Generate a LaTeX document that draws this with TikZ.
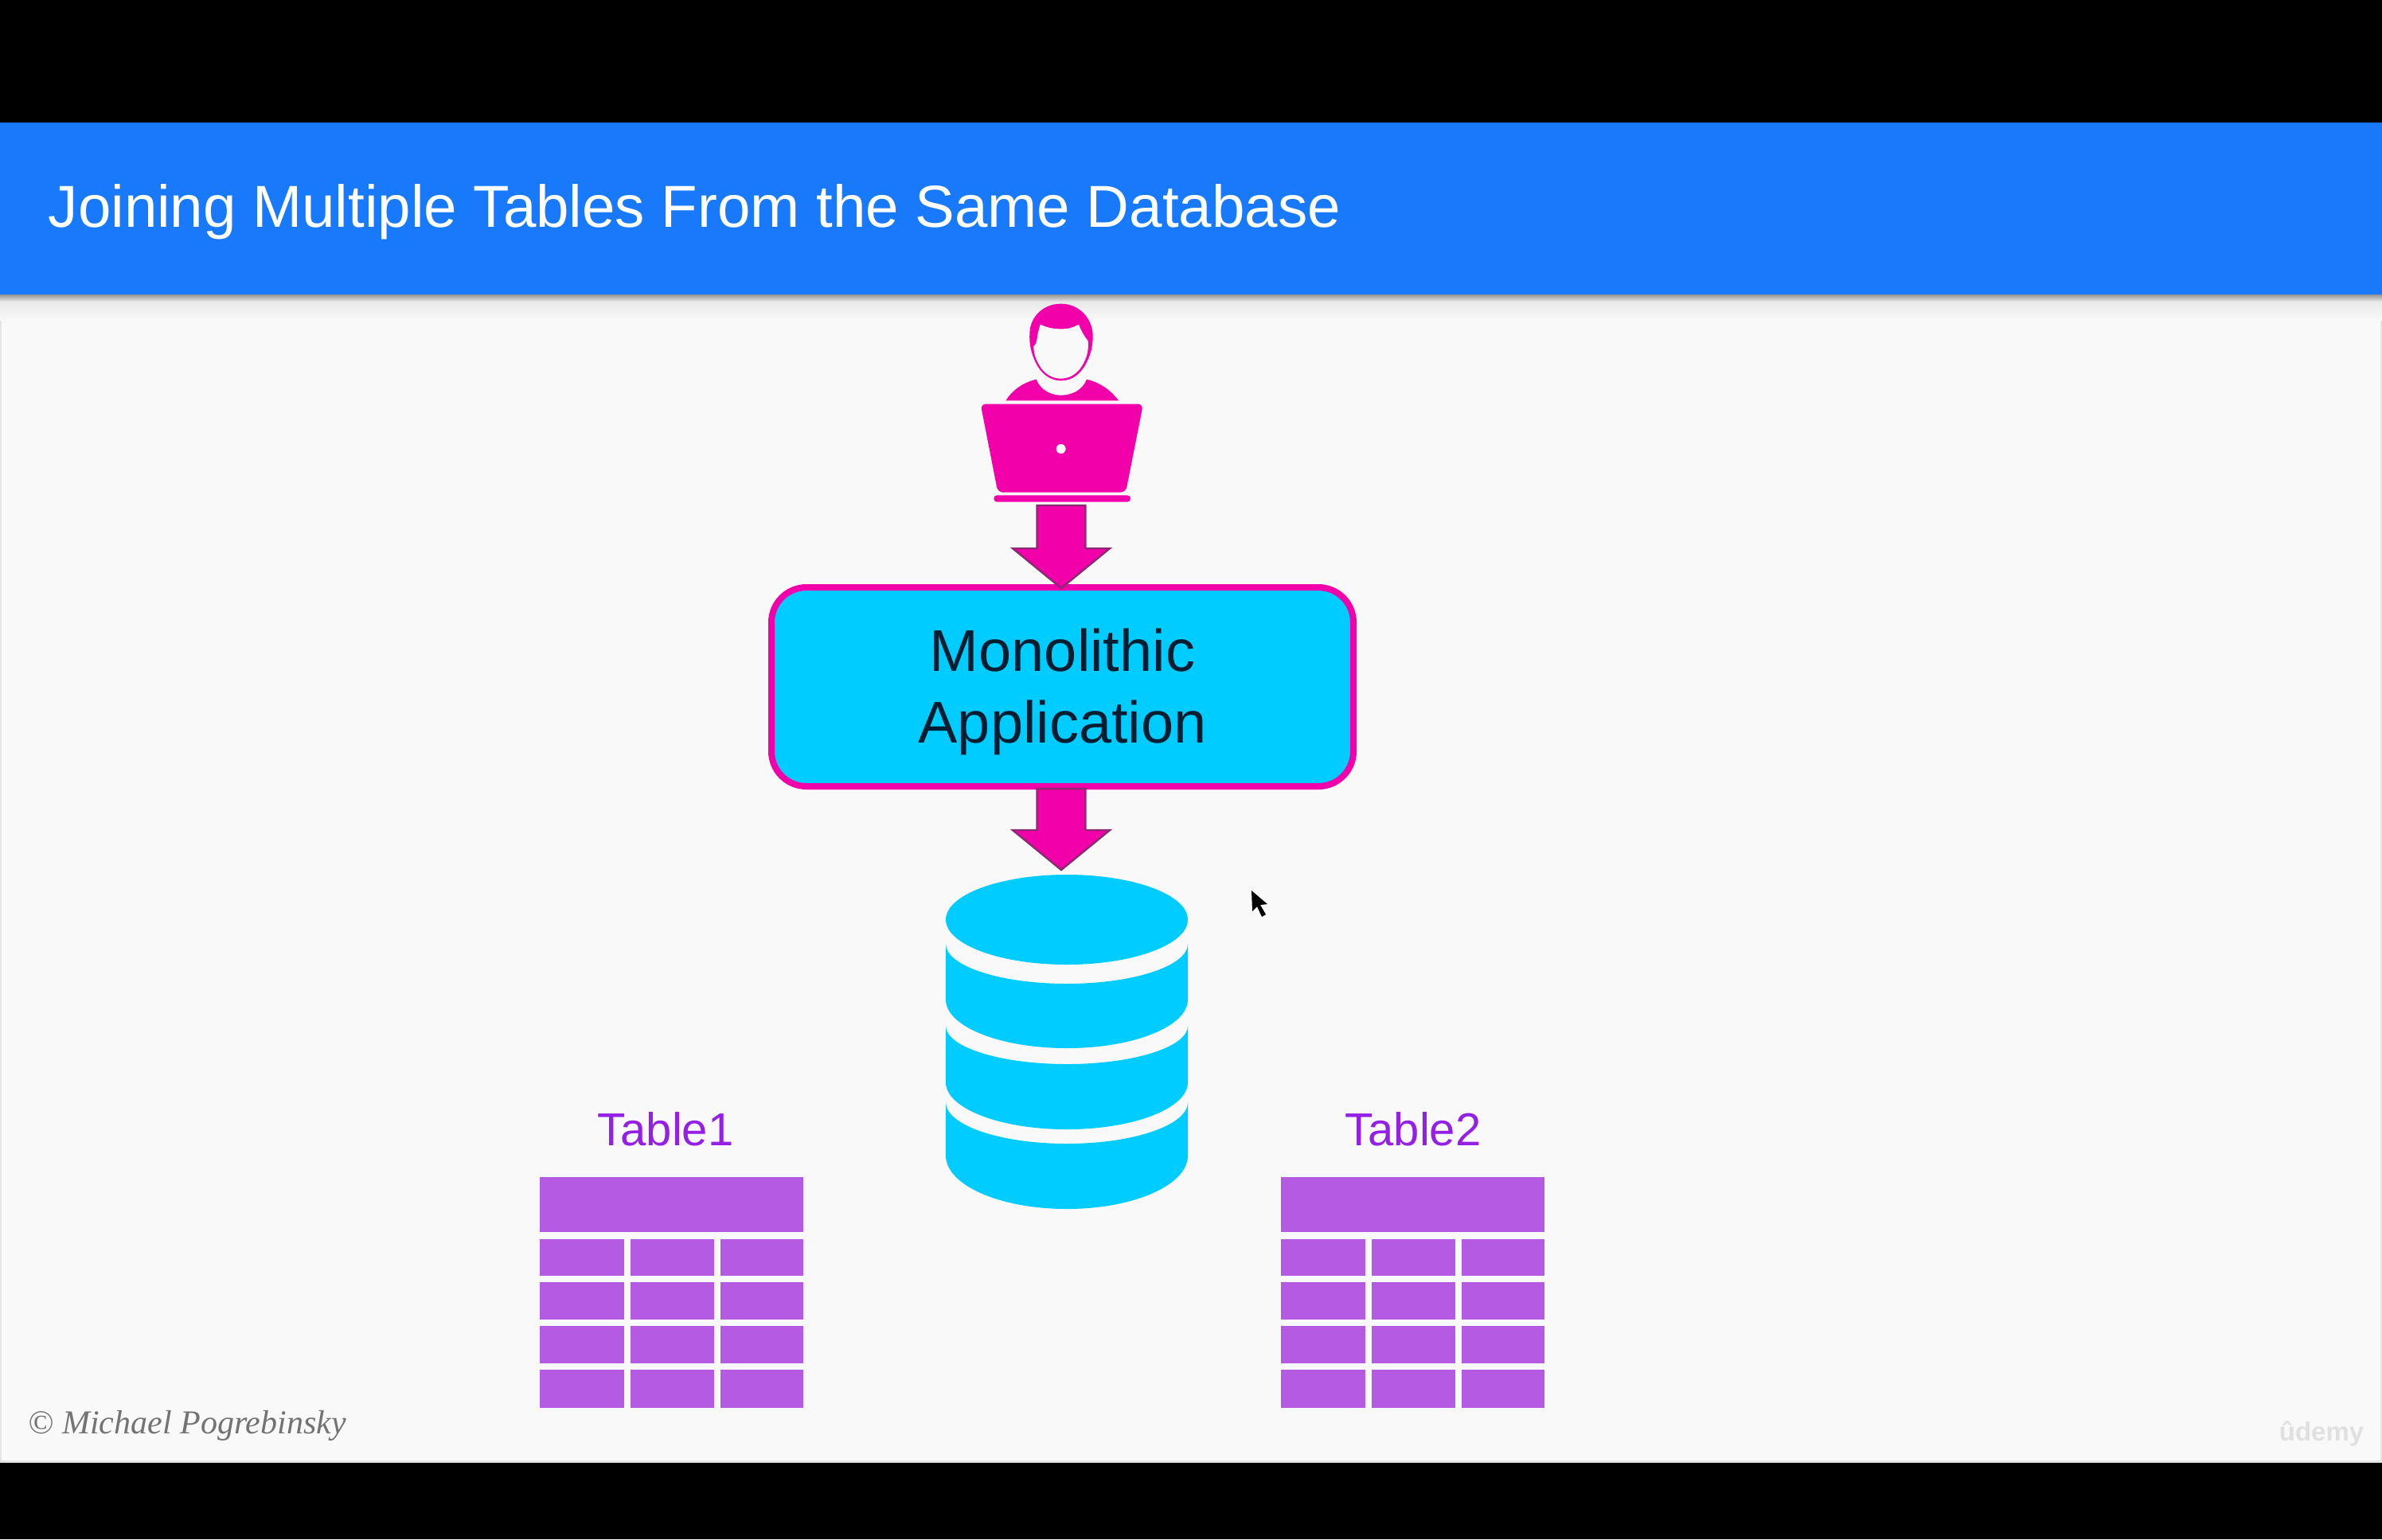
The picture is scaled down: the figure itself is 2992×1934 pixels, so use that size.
\documentclass[tikz,border=0pt]{standalone}
\usepackage{fontspec}
\setmainfont{Liberation Sans}
\newfontfamily\serifit{Liberation Serif}
\usetikzlibrary{calc}
\definecolor{slidebg}{HTML}{F9F9F9}
\definecolor{headblue}{HTML}{187AFA}
\definecolor{hotpink}{HTML}{F200A9}
\definecolor{arrowedge}{HTML}{8A2A70}
\definecolor{dbcyan}{HTML}{00CCFF}
\definecolor{tabpurple}{HTML}{B45AE3}
\definecolor{labpurple}{HTML}{9420E6}
\definecolor{inkdark}{HTML}{021E30}
\definecolor{shadowmid}{HTML}{E9E9E9}
\newcommand{\pxfont}[2][1.2]{\fontsize{\fpeval{#2*0.25}bp}{\fpeval{#2*0.25*#1}bp}\selectfont}
\newcommand{\cylseg}[4]{%
  \fill[dbcyan] (1188,#1) .. controls (1188,{#1+0.5523*(#2-#1)}) and (1256,#2) .. (1340,#2)
    .. controls (1424,#2) and (1492,{#1+0.5523*(#2-#1)}) .. (1492,#1)
    -- (1492,#3) .. controls (1492,{#3+0.5523*(#4-#3)}) and (1424,#4) .. (1340,#4)
    .. controls (1256,#4) and (1188,{#3+0.5523*(#4-#3)}) .. (1188,#3) -- cycle;}
\newcommand{\tablegrid}[1]{%
  \begin{scope}[xshift=#1*0.25bp]
    \fill[tabpurple] (678,1479) rectangle (1009,1548);
    \foreach \ya/\yb in {1557/1603,1611/1658,1666/1713,1721/1769}{
      \fill[tabpurple] (678,\ya) rectangle (784,\yb);
      \fill[tabpurple] (792,\ya) rectangle (897,\yb);
      \fill[tabpurple] (905,\ya) rectangle (1009,\yb);
    }
  \end{scope}}
\tikzset{
  blockarrow/.style={fill=hotpink,draw=arrowedge,line width=0.6bp,line join=miter,
    to path={($(\tikztostart)+(-30.5,0)$) -- ($(\tikztostart)+(30.5,0)$)
      -- ($(\tikztotarget)+(30.5,-50)$) -- ($(\tikztotarget)+(61,-50)$)
      -- (\tikztotarget) -- ($(\tikztotarget)+(-61,-50)$)
      -- ($(\tikztotarget)+(-30.5,-50)$) -- cycle}},
  appbox/.style={rectangle,rounded corners=11bp,draw=hotpink,fill=dbcyan,line width=2bp,
    minimum width=731*0.25bp,minimum height=250*0.25bp,inner sep=0,align=center,
    text=inkdark,font=\pxfont[1.216]{74}},
  tablelabel/.style={text=labpurple,font=\pxfont{58},inner sep=0,anchor=base},
  anchorpt/.style={inner sep=0,minimum size=0}
}
\begin{document}
\begin{tikzpicture}[x=0.25bp,y=-0.25bp]
\useasboundingbox (0,0) rectangle (2992,1934);
\fill[black] (0,0) rectangle (2992,1934);
% slide
\fill[slidebg] (2,155) rectangle (2990,1835);
\fill[black!10] (0,155) rectangle (2,1838);
\fill[black!10] (2990,155) rectangle (2992,1838);
\fill[black!10] (0,1835) rectangle (2992,1838);
\fill[headblue] (0,154) rectangle (2992,370);
\shade[top color=black!42,bottom color=shadowmid] (0,370) rectangle (2992,379);
\shade[top color=shadowmid,bottom color=slidebg] (0,379) rectangle (2992,402);
\node[anchor=base west,inner sep=0,text=white,font=\pxfont{74.5}] (title) at (60,285)
  {Joining Multiple Tables From the Same Database};
% user figure
\begin{scope}[shift={(1180,360)},x=0.0833333bp,y=-0.0833333bp]
  \fill[hotpink] (458,65) .. controls (530,65) and (580,125) .. (578,190)
    .. controls (578,225) and (570,260) .. (550,295)
    .. controls (530,330) and (500,355) .. (458,355)
    .. controls (415,355) and (380,325) .. (362,285)
    .. controls (345,250) and (338,215) .. (340,175)
    .. controls (342,115) and (390,65) .. (458,65) -- cycle;
  \fill[slidebg] (380,143) .. controls (405,155) and (430,160) .. (458,160)
    .. controls (485,160) and (505,155) .. (525,143)
    .. controls (535,170) and (548,190) .. (560,205)
    .. controls (565,250) and (548,285) .. (530,310)
    .. controls (510,335) and (485,347) .. (458,347)
    .. controls (430,347) and (405,335) .. (385,310)
    .. controls (368,285) and (355,260) .. (355,225)
    .. controls (365,220) and (368,200) .. (370,180) -- cycle;
  \fill[hotpink] (250,430) .. controls (275,390) and (315,362) .. (365,350)
    .. controls (380,390) and (420,410) .. (458,410)
    .. controls (500,410) and (540,390) .. (555,350)
    .. controls (605,362) and (645,390) .. (675,430) -- cycle;
  \fill[hotpink,rounded corners=5bp/3] (155,443) -- (768,443) -- (702,776) -- (220,776) -- cycle;
  \fill[hotpink,rounded corners=1bp] (205,787) rectangle (720,812);
  \fill[slidebg] (458,612) circle (18);
\end{scope}
\node[anchorpt] (user) at (1333,635) {};
% application
\node[appbox] (app) at (1334.5,863) {\rule{0pt}{16.5bp}Monolithic\\Application};
\coordinate (apptip) at (1333,739);
\coordinate (appbottom) at (1333,991);
\coordinate (dbtip) at (1333,1093);
\draw[blockarrow] (user) to (apptip);
\draw[blockarrow] (appbottom) to (dbtip);
% database
\fill[dbcyan] (1340,1155.5) ellipse [x radius=152,y radius=56.5];
\cylseg{1186}{1236}{1256}{1317}
\cylseg{1289}{1337}{1360}{1419}
\cylseg{1385}{1437}{1452}{1519}
\node[anchorpt] (db) at (1340,1309) {};
% tables
\tablegrid{0}
\tablegrid{931}
\node[tablelabel] (t1) at (836,1439) {Table1};
\node[tablelabel] (t2) at (1775,1439) {Table2};
% cursor
\fill[white,opacity=.7,line join=round,draw=white,line width=1.2bp] (1572,1119) -- (1573,1145) -- (1579,1139) -- (1585,1152) -- (1590,1149) -- (1583,1137) -- (1592,1136) -- cycle;
\fill[black] (1572,1119) -- (1573,1145) -- (1579,1139) -- (1585,1152) -- (1590,1149) -- (1583,1137) -- (1592,1136) -- cycle;
% footers
\node[anchor=base west,inner sep=0,text=black!55,font=\serifit\itshape\pxfont{42}] (copyright) at (35,1801) {© Michael Pogrebinsky};
\node[anchor=base east,inner sep=0,text=black!12,font=\bfseries\pxfont{33}] (udemy) at (2970,1810) {ûdemy};
\end{tikzpicture}
\end{document}
